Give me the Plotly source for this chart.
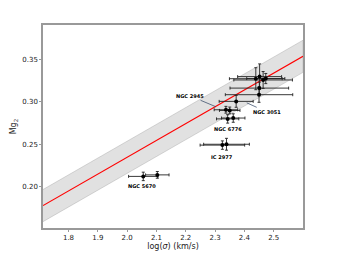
import plotly.graph_objects as go

log_sigma = [2.055, 2.103, 2.325, 2.339, 2.343, 2.362, 2.337, 2.350, 2.372, 2.450, 2.451, 2.439, 2.452, 2.464, 2.473]
mg2 = [0.212, 0.2138, 0.249, 0.250, 0.280, 0.281, 0.2908, 0.290, 0.3007, 0.3086, 0.3164, 0.3275, 0.330, 0.326, 0.3277]
err_x = [0.050, 0.040, 0.076, 0.078, 0.038, 0.040, 0.040, 0.035, 0.058, 0.115, 0.100, 0.090, 0.075, 0.100, 0.065]
err_y = [0.005, 0.004, 0.005, 0.007, 0.005, 0.005, 0.004, 0.004, 0.007, 0.009, 0.007, 0.013, 0.015, 0.010, 0.006]

fit_x = [1.713, 2.6]
fit_slope = 0.199
fit_icpt = -0.1634
band_half = 0.019

labels = ["NGC 5670", "IC 2977", "NGC 6776", "NGC 2945", "NGC 3051"]
label_x = [2.052, 2.323, 2.345, 2.255, 2.468]
label_y = [0.2005, 0.2355, 0.2685, 0.3055, 0.2965]

fit_y = [fit_slope * x + fit_icpt for x in fit_x]
upper = [y + band_half for y in fit_y]
lower = [y - band_half for y in fit_y]

fig = go.Figure()
fig.add_trace(go.Scatter(x=fit_x + fit_x[::-1], y=upper + lower[::-1], fill="toself",
                         fillcolor="rgba(200,200,200,0.55)", line=dict(color="rgba(150,150,150,0.6)", width=0.6),
                         mode="lines", hoverinfo="skip"))
fig.add_trace(go.Scatter(x=fit_x, y=fit_y, mode="lines", line=dict(color="red", width=1.2)))
fig.add_trace(go.Scatter(x=log_sigma, y=mg2, mode="markers",
                         marker=dict(color="black", size=4),
                         error_x=dict(type="data", array=err_x, color="#222", thickness=0.9, width=1.5),
                         error_y=dict(type="data", array=err_y, color="#222", thickness=0.9, width=1.5)))

lab_font = dict(size=5, color="black", family="DejaVu Sans")
for i, t in enumerate(labels):
    txt = "<b>" + t + "</b>"
    if t == "NGC 2945":
        fig.add_annotation(x=2.303, y=0.2943, text=txt, showarrow=True, arrowhead=0, arrowwidth=0.7,
                           ax=-26, ay=-11, font=lab_font)
    elif t == "NGC 3051":
        fig.add_annotation(x=2.408, y=0.299, text=txt, showarrow=True, arrowhead=0, arrowwidth=0.7,
                           ax=20, ay=9, font=lab_font)
    else:
        fig.add_annotation(x=label_x[i], y=label_y[i], text=txt, showarrow=False, font=lab_font)

fig.update_layout(
    width=333, height=256, showlegend=False,
    margin=dict(l=35, r=38, t=17, b=36),
    plot_bgcolor="white", paper_bgcolor="white",
    font=dict(family="DejaVu Sans", size=7, color="#222"),
    xaxis=dict(range=[1.713, 2.6], tickvals=[1.8, 1.9, 2.0, 2.1, 2.2, 2.3, 2.4, 2.5],
               ticktext=["1.8", "1.9", "2.0", "2.1", "2.2", "2.3", "2.4", "2.5"], automargin=False,
               showgrid=False, zeroline=False, showline=True, mirror=True, linecolor="#999", linewidth=1.5,
               ticks="outside", ticklen=2, tickcolor="#999",
               title=dict(text="log(<i>σ</i>) (km/s)", font=dict(size=8), standoff=2)),
    yaxis=dict(range=[0.151, 0.391], tickvals=[0.20, 0.25, 0.30, 0.35],
               ticktext=["0.20", "0.25", "0.30", "0.35"], automargin=False,
               showgrid=False, zeroline=False, showline=True, mirror=True, linecolor="#999", linewidth=1.5,
               ticks="outside", ticklen=2, tickcolor="#999",
               title=dict(text="Mg<sub>2</sub>", font=dict(size=8), standoff=4)),
)

fig.write_html("out.html")
